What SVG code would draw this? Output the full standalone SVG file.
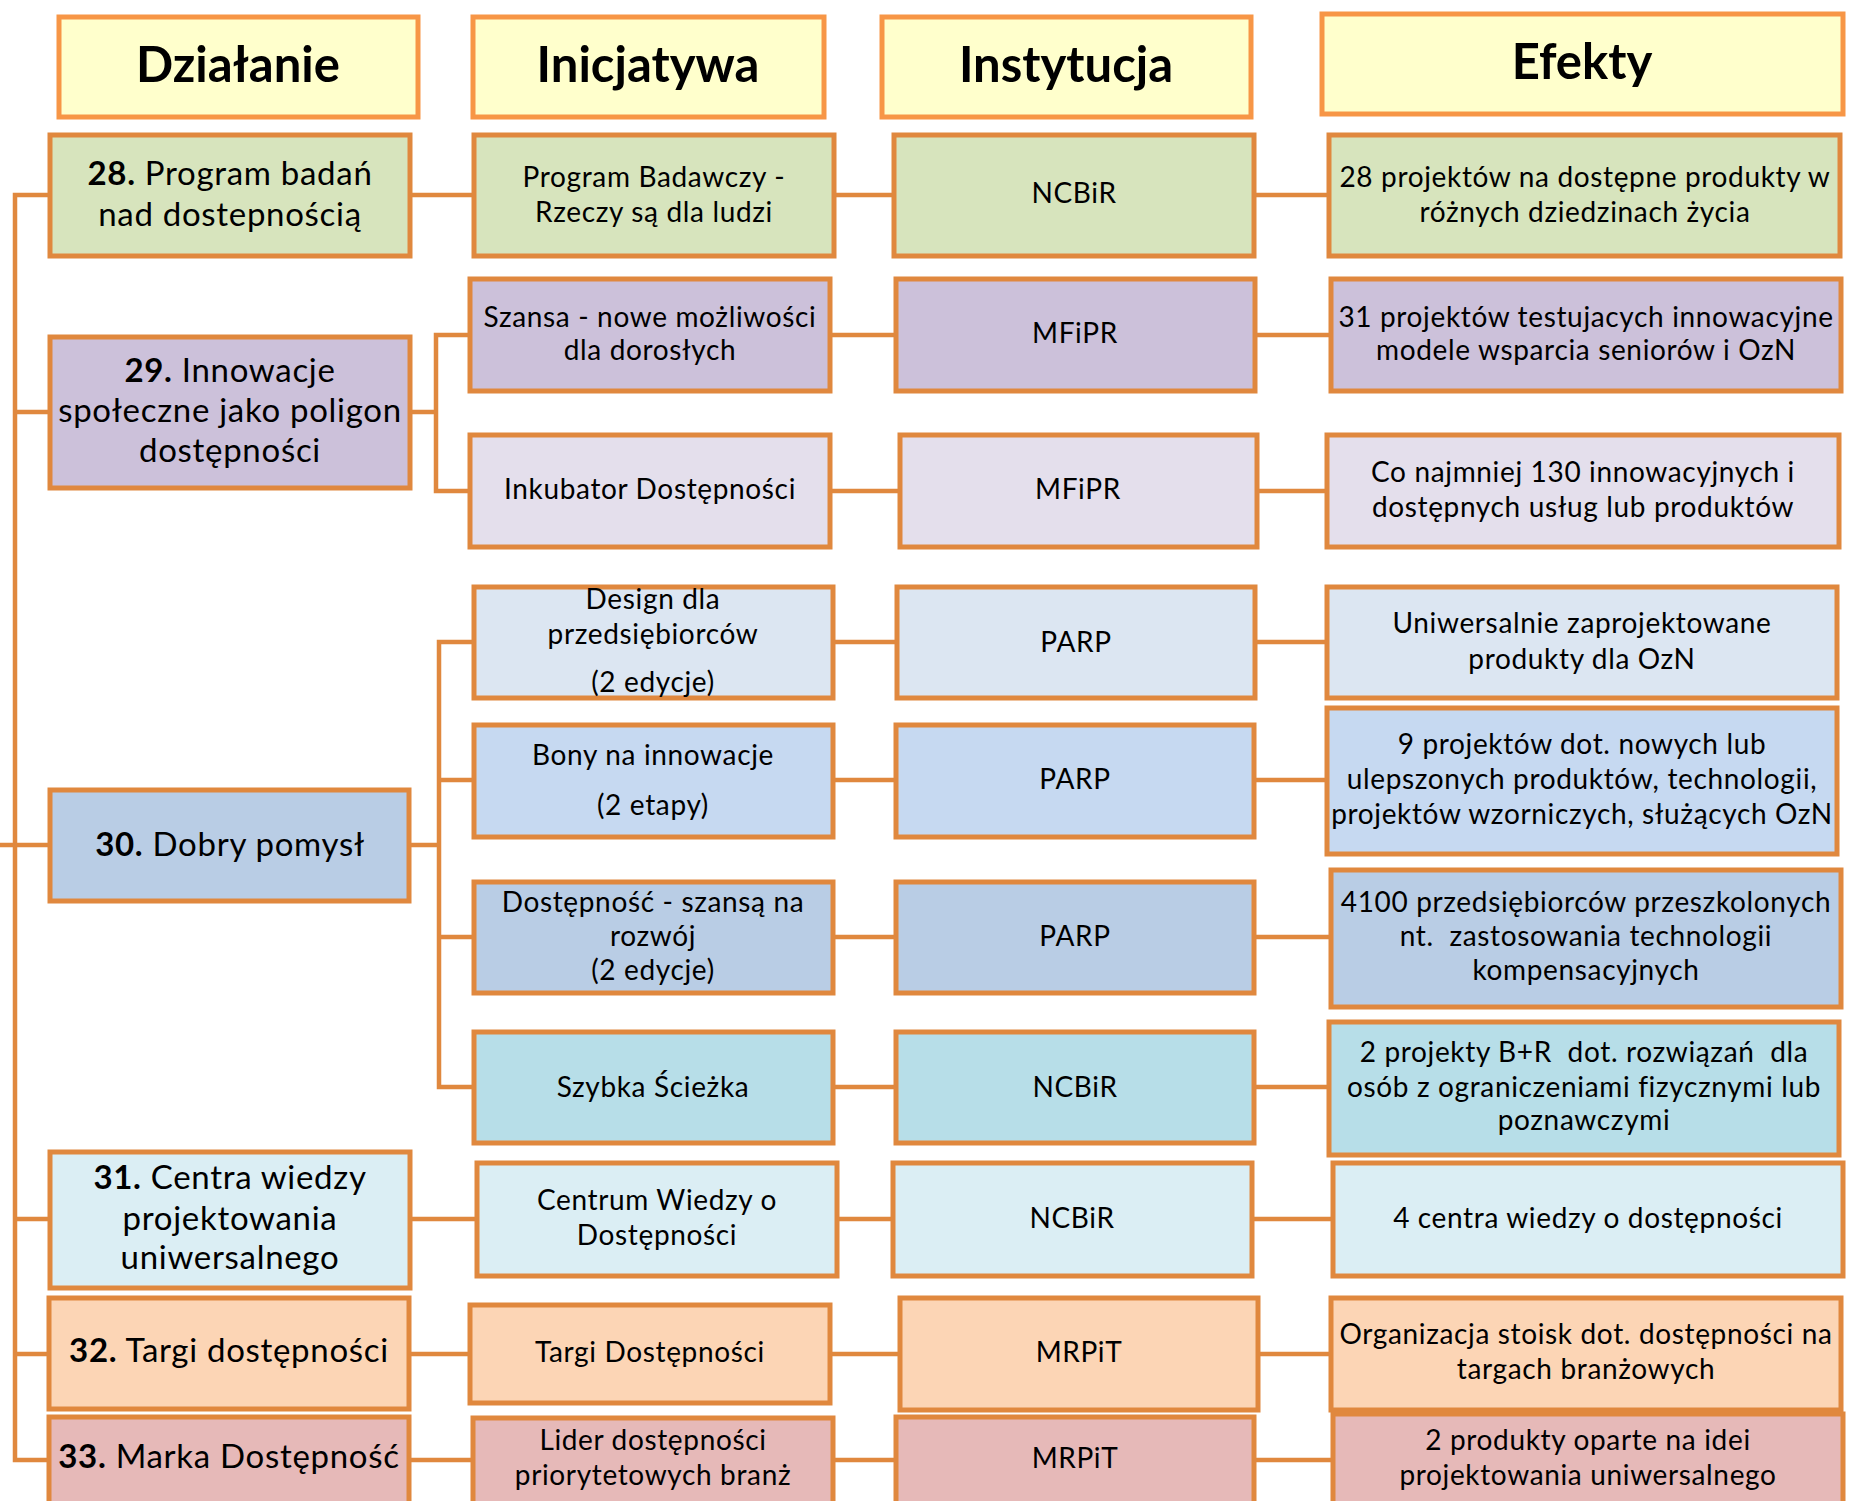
<svg xmlns="http://www.w3.org/2000/svg" width="1861" height="1501" viewBox="0 0 1861 1501">
<style>
.hdr rect{fill:#FFFFCC;stroke:#F79646;stroke-width:5}
.hdr text{font-family:Lato,"Liberation Sans",sans-serif;font-weight:bold;font-size:49px;fill:#000;text-anchor:middle}
.nd rect{stroke:#E0883E;stroke-width:5}
.nd text{font-family:Lato,"Liberation Sans",sans-serif;font-size:28px;letter-spacing:0.65px;fill:#000;text-anchor:middle}
.c1 text{font-size:33px;letter-spacing:0.7px}
.b{font-weight:bold}
.pre{white-space:pre}
.con{fill:none;stroke:#E0883E;stroke-width:4.5}
.g1{fill:#D7E4BD}.g2{fill:#CCC1DA}.g3{fill:#E4DFEC}.g4{fill:#DCE6F2}.g5{fill:#C6D9F1}.g6{fill:#B9CDE5}.g7{fill:#B7DEE8}.g8{fill:#DBEEF4}.g9{fill:#FCD5B5}.g10{fill:#E6B9B8}
</style>
<rect width="1861" height="1501" fill="#fff"/>
<g id="connectors" class="con">
<path d="M50 195H15V1460H50"/>
<path d="M15 412H50M0 845H50M15 1219H50M15 1354H50"/>
<path d="M410 195H474M834 195H894M1254 195H1329"/>
<path d="M410 412H436M470 335H436V491H470"/>
<path d="M830 335H896M1255 335H1331M830 491H900M1257 491H1327"/>
<path d="M409 845H439M474 642H439V1087H474M439 780H474M439 937H474"/>
<path d="M833 642H897M1255 642H1327M833 780H896M1254 780H1327M833 937H896M1254 937H1331M833 1087H896M1254 1087H1329"/>
<path d="M410 1219H477M837 1219H893M1252 1219H1333"/>
<path d="M409 1354H470M830 1354H900M1258 1354H1331"/>
<path d="M409 1460H473M833 1460H896M1254 1460H1333"/>
</g>
<g id="h1" class="hdr"><rect x="59" y="17" width="359" height="100"/><text x="238" y="82">Działanie</text></g>
<g id="h2" class="hdr"><rect x="473" y="17" width="351" height="100"/><text x="648" y="82">Inicjatywa</text></g>
<g id="h3" class="hdr"><rect x="882" y="17" width="369" height="100"/><text x="1066" y="82">Instytucja</text></g>
<g id="h4" class="hdr"><rect x="1322" y="14" width="521" height="100"/><text x="1582" y="79">Efekty</text></g>

<g id="n28" class="nd c1"><rect class="g1" x="50" y="135" width="360" height="121"/><text x="230" y="185"><tspan class="b">28.</tspan> Program badań</text><text x="230" y="226">nad dostepnością</text></g>
<g id="n29" class="nd c1"><rect class="g2" x="50" y="337" width="360" height="151"/><text x="230" y="382"><tspan class="b">29.</tspan> Innowacje</text><text x="230" y="422">społeczne jako poligon</text><text x="230" y="462">dostępności</text></g>
<g id="n30" class="nd c1"><rect class="g6" x="50" y="790" width="359" height="111"/><text x="230" y="856"><tspan class="b">30.</tspan> Dobry pomysł</text></g>
<g id="n31" class="nd c1"><rect class="g8" x="50" y="1152" width="360" height="136"/><text x="230" y="1189"><tspan class="b">31.</tspan> Centra wiedzy</text><text x="230" y="1230">projektowania</text><text x="230" y="1269">uniwersalnego</text></g>
<g id="n32" class="nd c1"><rect class="g9" x="49" y="1298" width="360" height="111"/><text x="229" y="1362"><tspan class="b">32.</tspan> Targi dostępności</text></g>
<g id="n33" class="nd c1"><rect class="g10" x="49" y="1417" width="360" height="110"/><text x="229" y="1468"><tspan class="b">33.</tspan> Marka Dostępność</text></g>

<g id="i28" class="nd"><rect class="g1" x="474" y="135" width="360" height="121"/><text x="654" y="187">Program Badawczy -</text><text x="654" y="222">Rzeczy są dla ludzi</text></g>
<g id="i29a" class="nd"><rect class="g2" x="470" y="279" width="360" height="112"/><text x="650" y="327">Szansa - nowe możliwości</text><text x="650" y="360">dla dorosłych</text></g>
<g id="i29b" class="nd"><rect class="g3" x="470" y="435" width="360" height="112"/><text x="650" y="499">Inkubator Dostępności</text></g>
<g id="i30a" class="nd"><rect class="g4" x="474" y="587" width="359" height="111"/><text x="653" y="609">Design dla</text><text x="653" y="644">przedsiębiorców</text><text x="653" y="692">(2 edycje)</text></g>
<g id="i30b" class="nd"><rect class="g5" x="474" y="725" width="359" height="112"/><text x="653" y="765">Bony na innowacje</text><text x="653" y="815">(2 etapy)</text></g>
<g id="i30c" class="nd"><rect class="g6" x="474" y="882" width="359" height="111"/><text x="653" y="912">Dostępność - szansą na</text><text x="653" y="946">rozwój</text><text x="653" y="980">(2 edycje)</text></g>
<g id="i30d" class="nd"><rect class="g7" x="474" y="1032" width="359" height="111"/><text x="653" y="1097">Szybka Ścieżka</text></g>
<g id="i31" class="nd"><rect class="g8" x="477" y="1163" width="360" height="113"/><text x="657" y="1210">Centrum Wiedzy o</text><text x="657" y="1245">Dostępności</text></g>
<g id="i32" class="nd"><rect class="g9" x="470" y="1305" width="360" height="98"/><text x="650" y="1362">Targi Dostępności</text></g>
<g id="i33" class="nd"><rect class="g10" x="473" y="1418" width="360" height="110"/><text x="653" y="1450">Lider dostępności</text><text x="653" y="1485">priorytetowych branż</text></g>

<g id="s28" class="nd"><rect class="g1" x="894" y="135" width="360" height="121"/><text x="1074" y="203">NCBiR</text></g>
<g id="s29a" class="nd"><rect class="g2" x="896" y="279" width="359" height="112"/><text x="1075" y="343">MFiPR</text></g>
<g id="s29b" class="nd"><rect class="g3" x="900" y="435" width="357" height="112"/><text x="1078" y="499">MFiPR</text></g>
<g id="s30a" class="nd"><rect class="g4" x="897" y="587" width="358" height="111"/><text x="1076" y="652">PARP</text></g>
<g id="s30b" class="nd"><rect class="g5" x="896" y="725" width="358" height="112"/><text x="1075" y="789">PARP</text></g>
<g id="s30c" class="nd"><rect class="g6" x="896" y="882" width="358" height="111"/><text x="1075" y="946">PARP</text></g>
<g id="s30d" class="nd"><rect class="g7" x="896" y="1032" width="358" height="111"/><text x="1075" y="1097">NCBiR</text></g>
<g id="s31" class="nd"><rect class="g8" x="893" y="1163" width="359" height="113"/><text x="1072" y="1228">NCBiR</text></g>
<g id="s32" class="nd"><rect class="g9" x="900" y="1298" width="358" height="112"/><text x="1079" y="1362">MRPiT</text></g>
<g id="s33" class="nd"><rect class="g10" x="896" y="1417" width="358" height="110"/><text x="1075" y="1468">MRPiT</text></g>

<g id="e28" class="nd"><rect class="g1" x="1329" y="135" width="511" height="121"/><text x="1585" y="187">28 projektów na dostępne produkty w</text><text x="1585" y="222">różnych dziedzinach życia</text></g>
<g id="e29a" class="nd"><rect class="g2" x="1331" y="279" width="510" height="112"/><text x="1586" y="327">31 projektów testujacych innowacyjne</text><text x="1586" y="360">modele wsparcia seniorów i OzN</text></g>
<g id="e29b" class="nd"><rect class="g3" x="1327" y="435" width="512" height="112"/><text x="1583" y="482">Co najmniej 130 innowacyjnych i</text><text x="1583" y="517">dostępnych usług lub produktów</text></g>
<g id="e30a" class="nd"><rect class="g4" x="1327" y="587" width="510" height="111"/><text x="1582" y="633">Uniwersalnie zaprojektowane</text><text x="1582" y="669">produkty dla OzN</text></g>
<g id="e30b" class="nd"><rect class="g5" x="1327" y="708" width="510" height="146"/><text x="1582" y="754">9 projektów dot. nowych lub</text><text x="1582" y="789">ulepszonych produktów, technologii,</text><text x="1582" y="824">projektów wzorniczych, służących OzN</text></g>
<g id="e30c" class="nd"><rect class="g6" x="1331" y="870" width="510" height="137"/><text x="1586" y="912">4100 przedsiębiorców przeszkolonych</text><text class="pre" x="1586" y="946">nt.  zastosowania technologii</text><text x="1586" y="980">kompensacyjnych</text></g>
<g id="e30d" class="nd"><rect class="g7" x="1329" y="1022" width="510" height="133"/><text class="pre" x="1584" y="1062">2 projekty B+R  dot. rozwiązań  dla</text><text x="1584" y="1097">osób z ograniczeniami fizycznymi lub</text><text x="1584" y="1130">poznawczymi</text></g>
<g id="e31" class="nd"><rect class="g8" x="1333" y="1163" width="510" height="113"/><text x="1588" y="1228">4 centra wiedzy o dostępności</text></g>
<g id="e32" class="nd"><rect class="g9" x="1331" y="1298" width="510" height="112"/><text x="1586" y="1344">Organizacja stoisk dot. dostępności na</text><text x="1586" y="1379">targach branżowych</text></g>
<g id="e33" class="nd"><rect class="g10" x="1333" y="1414" width="510" height="113"/><text x="1588" y="1450">2 produkty oparte na idei</text><text x="1588" y="1485">projektowania uniwersalnego</text></g>
</svg>
